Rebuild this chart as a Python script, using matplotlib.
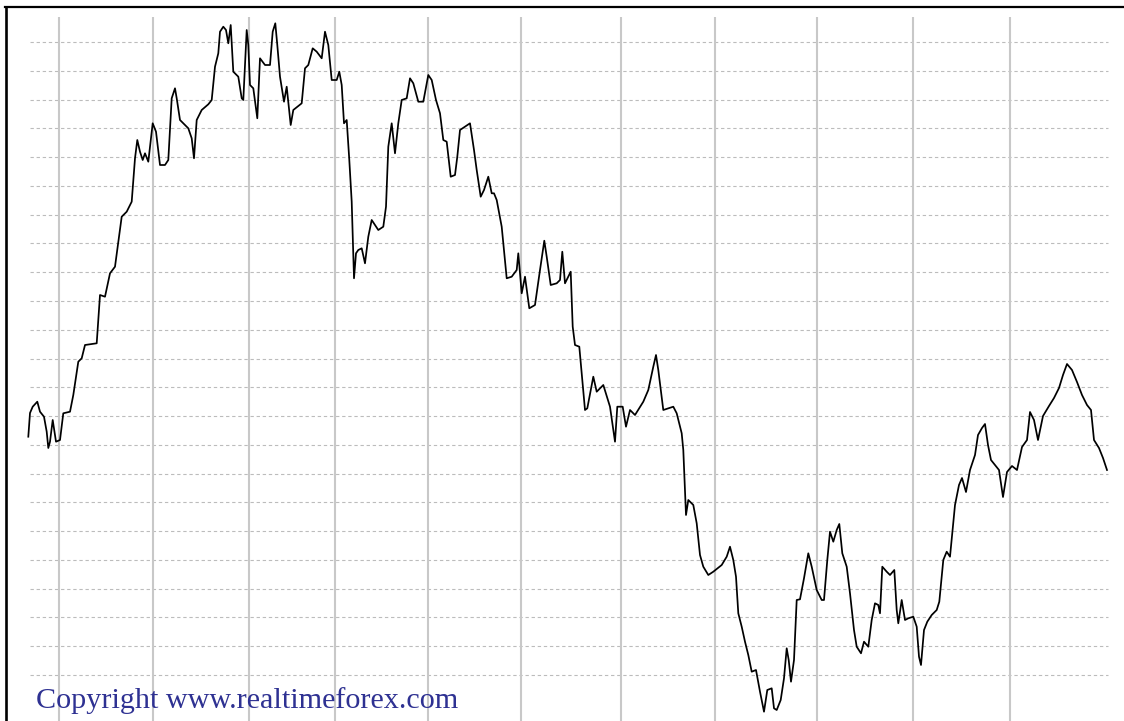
import matplotlib

matplotlib.use("Agg")
import matplotlib.pyplot as plt
import numpy as np

# time axis (chart units, left to right) and price level (pips above chart floor)
t = [
    28.3, 30, 32.7, 37.3, 40, 44, 46.7, 48.3, 50, 52.7, 56, 60, 63.3, 70, 73.3,
    78.3, 81.7, 85, 96.7, 100, 105, 110, 115, 118.3, 121.7, 126.7, 131.7, 135,
    137.3, 140, 142.7, 145, 148.3, 152.7, 156, 160, 165, 168.3, 171.7, 175,
    176.7, 180, 188.3, 191.7, 194, 196.7, 201.7, 208.3, 211.7, 215, 218.3, 220,
    223.3, 226, 228.3, 230.7, 233.3, 238.3, 241.7, 243.3, 246.7, 248.3, 250,
    253.3, 257.3, 260, 265, 270, 272.7, 275.3, 277.3, 280, 284, 286.7, 290.7,
    293.3, 301.7, 305, 308.3, 312.7, 316.7, 321.7, 325, 328.3, 331.7, 336.7,
    339.3, 341.7, 344, 346.7, 349.3, 351.7, 354, 356, 358.3, 361.7, 365, 368.3,
    371.7, 378.3, 383.3, 386, 388.3, 391.7, 395, 398.3, 401.7, 406.7, 410,
    413.3, 418.3, 423.3, 428.3, 431.7, 436, 440, 443.3, 446.7, 450.7, 455,
    457.3, 460, 470, 474, 476.7, 480.7, 484, 488.3, 491.7, 494, 496.7, 501.7,
    506.7, 511.7, 516.7, 518.3, 521.7, 525, 529.3, 535, 540, 544.3, 546.7,
    550.7, 556.7, 560, 562.3, 565, 568.3, 570.7, 572.7, 575, 579.3, 585, 587.3,
    593.3, 596.7, 603.3, 610, 615, 617.3, 622.7, 626, 630, 635, 643.3, 648.3,
    653.3, 656, 658.3, 663.3, 673.3, 676.7, 681.7, 683.3, 686, 688.3, 693.3,
    696.7, 700, 703.3, 708.3, 713.3, 721.7, 726.7, 730, 733.3, 736, 738.3,
    741.7, 745, 748.3, 751.7, 756, 760, 764, 767.3, 771.7, 774, 776.7, 780.7,
    784, 786.7, 788.7, 791, 794, 796.7, 800, 804, 808.3, 811.7, 816.7, 821.7,
    824, 827.3, 830, 833.3, 836.7, 839.3, 842.3, 846.7, 850, 854, 856.7, 861,
    864, 868.3, 871.7, 875, 878.3, 880, 882.3, 886.7, 890, 894.3, 896.7, 898.3,
    901.7, 905, 908.3, 913.3, 916.7, 919, 921, 924, 927.3, 931.7, 936.7, 939.3,
    943.3, 946.7, 950, 955, 959, 962, 966, 970, 975, 978, 982, 985, 988, 991,
    995, 999, 1003, 1007, 1012, 1017, 1022, 1027, 1030, 1034, 1038, 1043, 1049,
    1054, 1059, 1063, 1067, 1072, 1077, 1082, 1087, 1091, 1094, 1099, 1103,
    1107,
]
level = [
    284.3, 308, 314.3, 319.3, 309.3, 304.3, 289.3, 273, 279.3, 301, 279.3, 281,
    307.7, 309.3, 326, 359.3, 362.7, 376, 377.7, 426, 424.3, 447.7, 454.3,
    479.3, 504.3, 509.3, 519.3, 562.7, 581, 569.3, 561, 567.7, 559.3, 597.7,
    589.3, 556, 556, 561, 622.7, 632.7, 622.7, 601, 592.7, 582.7, 562.7, 601,
    611, 616.7, 621, 654.3, 667.7, 689.3, 694.3, 691, 677.7, 696, 649.3, 644.3,
    622.7, 621, 691, 676, 636, 632.7, 602.7, 662.7, 656, 656, 689.3, 697.7,
    676, 644.3, 619.3, 634.3, 596, 611, 617.7, 652.7, 656, 672.7, 669.3, 662.7,
    689.3, 676, 641, 641, 649.3, 636, 597.7, 601, 561, 519.3, 442.7, 467.7,
    471, 472.7, 457.7, 484.3, 501, 491, 494.3, 514.3, 574.3, 597.7, 567.7,
    597.7, 621, 622.7, 642.7, 637.7, 619.3, 619.3, 646, 641, 621, 607.7, 581,
    579.3, 544.3, 546, 564.3, 591, 597.7, 571, 551, 524.3, 531, 544.3, 527.7,
    527.7, 521, 494.3, 442.7, 444.3, 451, 467.7, 427.7, 444.3, 412.7, 416, 451,
    480.3, 464.3, 436, 437.7, 441, 469.3, 437.7, 444.3, 449.3, 394.3, 376,
    374.3, 311, 312.7, 344.3, 329.3, 336, 314.3, 279.3, 314.3, 314.3, 294.3,
    311, 306, 319.3, 331, 354.3, 366, 351, 311, 314.3, 307.7, 287.7, 271, 206,
    221, 216, 197.7, 166, 154.3, 146, 149.3, 156, 164.3, 174.3, 161, 144.3,
    107.7, 94.3, 79.3, 66, 49.3, 51, 29.3, 9.3, 31, 32.7, 12.7, 11, 21, 42.7,
    72.7, 61, 39.3, 61, 121, 121.7, 142.7, 167.7, 154.3, 131, 121, 121, 161,
    189.3, 179.3, 191, 197, 167.7, 154.3, 127.7, 91, 74.3, 67.7, 79.3, 74.3,
    101, 117.7, 116, 107.7, 154.3, 149.3, 146, 151, 111, 97.7, 121, 101, 102.7,
    104.3, 94.3, 64.3, 56, 91, 99.3, 106, 111, 119.3, 161, 169.3, 164.3, 216,
    236, 243, 229, 251, 266, 286, 293, 297, 276, 261, 256, 251, 224, 249, 255,
    251, 274, 281, 309, 301, 281, 305, 315, 323, 333, 346, 357, 351, 339, 326,
    316, 311, 281, 273, 263, 251,
]

# day separators on the time axis
day_marks = [59, 153, 249, 335, 428, 521, 621, 715, 817, 913, 1010]
# price grid: 23 levels, evenly spaced
price_grid = np.linspace(46, 679, 23)

fig = plt.figure(figsize=(11.24, 7.21), dpi=100)
ax = fig.add_axes([5.5 / 1124, 0, 1 - 5.5 / 1124, 714 / 721])

ax.hlines(price_grid, 30, 1108, colors="#bcbcbc", linewidth=0.8,
          linestyles=(0, (3, 2.5)), zorder=1)
ax.vlines(day_marks, 0, 704, colors="#c8c8c8", linewidth=1.5, zorder=1)
ax.plot(t, level, color="black", linewidth=1.25, zorder=3)

ax.set_xlim(5.5, 1124)
ax.set_ylim(0, 714)
ax.set_xticks([])
ax.set_yticks([])
ax.spines["right"].set_visible(False)
ax.spines["bottom"].set_visible(False)
ax.spines["left"].set_linewidth(1.9)
ax.spines["top"].set_linewidth(1.6)

fig.text(36 / 1124, 13 / 721, "Copyright www.realtimeforex.com",
         family="Liberation Serif", fontsize=21.7, color="#2e3192",
         va="baseline", ha="left")

fig.savefig("out.png", dpi=100)
